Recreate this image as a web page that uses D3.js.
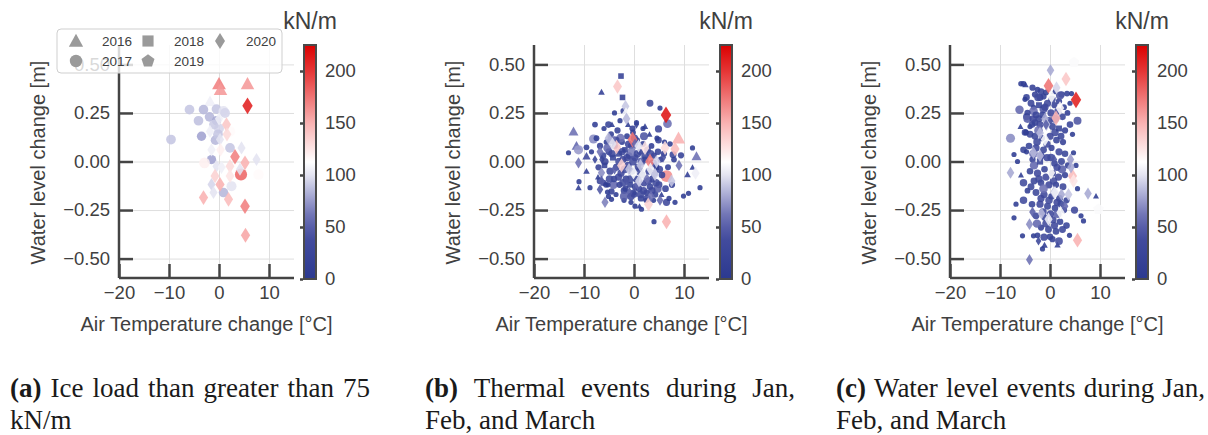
<!DOCTYPE html>
<html lang="en">
<head>
  <meta charset="UTF-8">
  <title>Ice load vs temperature and water level change</title>
  <script src="https://cdnjs.cloudflare.com/ajax/libs/d3/7.8.5/d3.min.js"></script>
  <style>
    body { margin: 0; background: #fff; }
    svg { font-family: "Liberation Sans", Arial, sans-serif; }
    .tick text { fill: #404040; font-size: 18.5px; }
    .axis path, .axis line { stroke: #444; stroke-width: 2.5px; }
    .grid line { stroke: #dedede; stroke-width: 1px; }
    .grid path { display: none; }
    .lbl { fill: #404040; font-size: 20px; text-anchor: middle; }
    .cap { font-family: "Liberation Serif", "Times New Roman", serif; font-size: 27px; fill: #1a1a1a; }
  </style>
</head>
<body>
<div id="chart"></div>
<script>
  const years = ["2016", "2017", "2018", "2019", "2020"];
  const xTicks = [-20, -10, 0, 10];
  const yTicks = [-0.5, -0.25, 0, 0.25, 0.5];
  const cbTicks = [0, 50, 100, 150, 200];

  // [air temp change, water level change, ice load, year index]
  const iceLoadHigh = [
    [0.0, 0.40, 170, 0], [0.3, 0.37, 160, 0], [5.7, 0.40, 160, 0], [-1.8, 0.31, 105, 0],
    [-5.9, 0.267, 90, 1], [-3.1, 0.267, 85, 1], [-0.5, 0.27, 90, 1], [0.9, 0.26, 100, 1],
    [-4.1, 0.21, 88, 1], [-1.9, 0.23, 85, 1], [-0.5, 0.21, 80, 1], [-3.5, 0.13, 78, 1],
    [-9.6, 0.113, 90, 1], [-0.7, 0.11, 85, 1], [0.0, 0.17, 95, 1], [-0.2, 0.14, 90, 1],
    [2.2, 0.155, 115, 1], [2.2, 0.07, 90, 1], [-1.5, 0.01, 78, 1], [-2.9, -0.007, 120, 1],
    [4.4, -0.067, 180, 1], [7.9, -0.067, 115, 1], [2.5, -0.127, 100, 1], [0.9, -0.16, 85, 1],
    [1.2, 0.25, 95, 1], [-1.0, 0.19, 92, 1],
    [5.7, 0.287, 210, 4], [1.5, 0.19, 140, 4], [-1.8, 0.155, 105, 4], [0.2, 0.113, 100, 4],
    [-1.5, 0.06, 105, 4], [0.3, 0.06, 120, 4], [4.5, 0.07, 100, 4], [3.2, 0.024, 170, 4],
    [5.2, -0.007, 150, 4], [7.5, 0.01, 100, 4], [-0.5, -0.024, 100, 4], [0.5, -0.03, 105, 4],
    [4.2, -0.04, 100, 4], [2.2, -0.024, 130, 4], [2.2, -0.075, 125, 4], [-0.8, -0.075, 135, 4],
    [0.2, -0.118, 150, 4], [-1.5, -0.118, 95, 4], [-1.1, -0.16, 100, 4], [-3.1, -0.186, 150, 4],
    [1.9, -0.195, 145, 4], [5.2, -0.23, 170, 4], [5.3, -0.38, 155, 4], [1.6, 0.14, 130, 4],
    [0.0, 0.22, 105, 4]
  ];

  const thermalEvents = [
    [-6.5, 0.357, 10, 0], [-12.1, 0.155, 60, 0], [-11.5, 0.08, 55, 0], [-9.5, 0.027, 30, 0],
    [-9.5, -0.05, 10, 0], [-11.1, -0.135, 8, 0], [2.2, 0.18, 8, 0], [8.9, 0.12, 150, 0],
    [12.5, 0.027, 60, 0], [10.7, -0.067, 10, 0], [11.7, -0.03, 5, 0], [-7.2, -0.08, 5, 0],
    [-4.4, 0.19, 5, 0], [-1.2, 0.19, 5, 0], [1.1, -0.23, 5, 0], [3.1, 0.14, 5, 0], [5.5, -0.17, 5, 0],
    [-3.9, 0.25, 5, 1], [-2.1, 0.26, 15, 1], [-7.8, 0.19, 10, 1], [-5.1, 0.19, 20, 1],
    [-0.3, 0.17, 15, 1], [-8.1, 0.116, 70, 1], [-11.1, 0.06, 75, 1], [-13.1, 0.045, 5, 1],
    [-9.5, 0.073, 10, 1], [-7.1, -0.03, 15, 1], [-11.0, -0.104, 5, 1], [-8.8, -0.135, 5, 1],
    [-6.8, -0.1, 20, 1], [-6.1, -0.11, 15, 1], [-5.6, -0.12, 10, 1], [-5.1, -0.18, 5, 1],
    [-4.5, -0.195, 5, 1], [-5.3, -0.157, 5, 1], [-4.5, -0.154, 15, 1], [-4.1, -0.12, 55, 1],
    [-1.7, -0.14, 15, 1], [-0.1, -0.16, 15, 1], [0.2, -0.23, 5, 1],
    [3.2, 0.30, 25, 1], [5.2, 0.275, 5, 1], [6.7, 0.195, 60, 1], [4.9, 0.168, 30, 1],
    [11.7, 0.07, 5, 1], [4.9, 0.11, 20, 1], [9.4, 0.032, 15, 1], [7.8, 0.035, 25, 1],
    [6.5, -0.075, 165, 1], [13.2, -0.135, 5, 1], [10.9, -0.164, 5, 1], [9.9, -0.178, 5, 1],
    [8.2, -0.21, 5, 1], [6.5, -0.21, 30, 1], [1.5, -0.246, 5, 1], [4.0, -0.31, 5, 1],
    [-7.5, 0.12, 10, 1], [-6.8, 0.08, 15, 1], [-6.2, 0.03, 20, 1], [-5.5, 0.10, 10, 1],
    [-5.0, 0.05, 25, 1], [-4.8, -0.05, 30, 1], [-4.6, 0.14, 12, 1], [-4.0, -0.09, 18, 1],
    [-3.8, 0.08, 10, 1], [-3.5, -0.03, 25, 1], [-3.3, 0.16, 15, 1], [-2.9, -0.12, 15, 1],
    [-2.6, -0.06, 30, 1], [-2.4, 0.10, 12, 1], [-2.2, 0.01, 28, 1], [-2.0, -0.15, 20, 1],
    [-1.6, -0.09, 25, 1], [-1.4, 0.13, 10, 1], [-1.2, -0.02, 30, 1], [-1.0, 0.03, 20, 1],
    [-0.6, 0.08, 15, 1], [-0.4, -0.05, 25, 1], [-0.2, 0.15, 10, 1], [0.0, -0.17, 20, 1],
    [0.2, 0.02, 30, 1], [0.4, -0.09, 22, 1], [0.6, 0.11, 12, 1], [1.0, -0.14, 20, 1],
    [1.2, 0.05, 15, 1], [1.4, -0.19, 18, 1], [1.6, -0.07, 25, 1], [1.8, 0.09, 12, 1],
    [2.0, -0.11, 30, 1], [2.5, -0.16, 15, 1], [2.7, 0.06, 22, 1], [3.0, -0.05, 28, 1],
    [3.2, -0.13, 20, 1], [3.5, 0.08, 10, 1], [3.7, -0.09, 25, 1], [4.0, 0.03, 15, 1],
    [4.2, -0.17, 20, 1], [4.8, 0.05, 18, 1], [5.0, -0.12, 25, 1], [5.3, 0.01, 10, 1],
    [5.6, -0.07, 20, 1], [6.0, 0.04, 15, 1], [6.3, -0.14, 22, 1], [6.8, -0.03, 12, 1],
    [7.2, 0.09, 8, 1], [7.6, -0.12, 15, 1], [8.0, 0.01, 10, 1], [-8.5, 0.05, 5, 1],
    [-6.0, 0.17, 5, 1], [-5.2, -0.12, 5, 1], [-3.6, -0.17, 5, 1], [-2.8, 0.21, 5, 1],
    [-2.0, -0.2, 5, 1], [-0.6, -0.21, 5, 1], [0.5, 0.2, 5, 1], [1.8, 0.17, 5, 1],
    [2.4, -0.2, 5, 1], [3.9, -0.2, 5, 1], [4.6, 0.12, 5, 1], [6.1, 0.1, 5, 1], [7.0, -0.19, 5, 1],
    [-5.3, 0.07, 55, 1], [-2.7, 0.12, 60, 1], [-0.5, 0.05, 65, 1], [1.5, 0.0, 50, 1],
    [3.8, -0.01, 45, 1], [4.7, -0.14, 50, 1], [2.0, 0.13, 45, 1], [-2.0, -0.18, 50, 1],
    [-5.8, 0.0, 30, 1], [-4.4, 0.04, 35, 1], [-3.1, -0.08, 30, 1], [-2.4, 0.05, 35, 1],
    [-1.9, -0.04, 40, 1], [-1.1, 0.09, 30, 1], [-0.8, -0.09, 35, 1], [-0.2, 0.0, 40, 1],
    [0.3, -0.13, 30, 1], [0.7, 0.04, 35, 1], [1.1, -0.05, 40, 1], [1.9, -0.15, 30, 1],
    [2.2, 0.03, 35, 1], [2.9, -0.1, 30, 1], [3.3, 0.04, 35, 1], [4.1, -0.06, 30, 1],
    [4.4, -0.11, 35, 1], [5.1, -0.04, 30, 1], [-4.9, -0.09, 35, 1], [-3.6, 0.11, 30, 1],
    [-2.2, -0.11, 35, 1], [-1.4, 0.02, 30, 1], [0.1, 0.12, 30, 1], [1.3, -0.17, 35, 1],
    [2.6, -0.19, 30, 1], [-0.6, -0.18, 30, 1], [-3.0, 0.0, 35, 1], [3.6, -0.15, 30, 1],
    [-2.6, 0.44, 15, 2], [-2.3, 0.33, 15, 2], [-5.9, -0.02, 15, 2], [-4.2, 0.02, 20, 2],
    [-3.0, 0.04, 20, 2], [-1.8, 0.06, 15, 2], [-0.8, -0.12, 18, 2], [0.8, -0.03, 28, 2],
    [2.3, 0.01, 20, 2], [4.5, -0.03, 12, 2], [-4.5, 0.11, 60, 2],
    [-3.3, 0.386, 140, 4], [-1.7, 0.284, 90, 4], [-1.6, 0.245, 110, 4], [-1.5, 0.22, 85, 4],
    [0.5, 0.19, 15, 4], [-0.3, 0.113, 175, 4], [-3.5, 0.075, 140, 4], [-5.1, 0.12, 85, 4],
    [-11.1, -0.007, 60, 4], [-6.8, 0.05, 60, 4], [-7.8, 0.01, 20, 4], [-6.4, 0.01, 25, 4],
    [-2.5, -0.02, 135, 4], [-6.5, -0.058, 70, 4], [-6.8, -0.144, 45, 4], [-5.8, -0.21, 65, 4],
    [-0.1, -0.058, 110, 4], [6.4, 0.24, 215, 4], [6.2, 0.07, 130, 4], [8.2, 0.065, 145, 4],
    [2.2, 0.07, 125, 4], [3.2, 0.0, 170, 4], [9.0, -0.02, 60, 4], [12.3, -0.06, 105, 4],
    [7.5, -0.1, 90, 4], [5.2, -0.2, 55, 4], [2.9, -0.22, 135, 4], [6.5, -0.31, 150, 4],
    [1.7, -0.07, 110, 4], [3.3, -0.04, 105, 4], [1.3, -0.02, 90, 4], [4.2, -0.067, 95, 4],
    [-3.9, -0.04, 50, 4], [-1.5, -0.1, 45, 4], [0.7, -0.12, 55, 4], [2.6, -0.09, 60, 4],
    [5.8, 0.02, 40, 4], [-6.5, -0.1, 50, 4], [0.2, 0.09, 55, 4], [3.4, -0.18, 60, 4],
    [-0.9, -0.16, 45, 4], [-4.3, 0.09, 100, 4], [0.9, 0.08, 100, 4], [1.0, -0.1, 95, 4],
    [-1.0, -0.04, 90, 4], [4.5, 0.0, 95, 4]
  ];

  const waterEvents = [
    [-4.9, 0.395, 8, 0], [-1.1, -0.43, 10, 0], [9.2, -0.178, 5, 0], [0.8, 0.36, 8, 0],
    [1.5, -0.43, 8, 0], [-5.8, -0.07, 5, 0], [-5.9, 0.18, 5, 0],
    [-5.3, 0.40, 10, 1], [-5.8, 0.40, 8, 1], [-4.7, 0.33, 20, 1], [-3.0, 0.345, 15, 1],
    [-2.0, 0.33, 25, 1], [-1.3, 0.335, 15, 1], [-3.3, 0.28, 5, 1], [2.3, 0.345, 20, 1],
    [3.4, 0.35, 10, 1], [4.3, 0.35, 5, 1], [-6.1, 0.267, 55, 1], [-3.3, 0.26, 60, 1],
    [-1.3, 0.27, 45, 1], [5.5, 0.21, 45, 1], [4.0, 0.19, 20, 1], [-4.7, 0.23, 25, 1],
    [-3.0, 0.20, 20, 1], [-4.0, 0.18, 5, 1], [-5.0, 0.15, 20, 1], [-4.0, 0.14, 25, 1],
    [-7.9, 0.12, 70, 1], [-7.2, 0.036, 5, 1], [-5.3, 0.06, 20, 1], [-3.3, 0.04, 60, 1],
    [4.7, 0.045, 5, 1], [-5.3, -0.2, 35, 1], [-5.3, -0.11, 35, 1], [-7.2, -0.29, 5, 1],
    [4.9, -0.25, 30, 1], [6.7, -0.306, 5, 1], [3.3, -0.33, 20, 1], [-5.5, -0.383, 5, 1],
    [-3.3, -0.383, 5, 1], [0.0, -0.388, 20, 1], [1.8, -0.41, 40, 1],
    [-3.5, 0.38, 15, 1], [-2.5, 0.37, 10, 1], [-1.8, 0.36, 20, 1], [-0.8, 0.355, 12, 1],
    [1.8, 0.31, 15, 1], [-3.8, 0.30, 25, 1], [-0.5, 0.30, 30, 1], [0.9, 0.29, 15, 1],
    [2.8, 0.28, 10, 1], [-4.5, 0.25, 15, 1], [-2.8, 0.24, 25, 1], [-1.5, 0.24, 20, 1],
    [0.2, 0.25, 30, 1], [2.5, 0.23, 20, 1], [3.5, 0.25, 10, 1], [-3.6, 0.19, 20, 1],
    [-2.0, 0.19, 30, 1], [0.5, 0.18, 25, 1], [3.0, 0.16, 15, 1], [-4.8, 0.15, 10, 1],
    [-3.0, 0.13, 25, 1], [-1.6, 0.12, 15, 1], [0.0, 0.13, 30, 1], [1.3, 0.11, 20, 1],
    [2.6, 0.10, 15, 1], [-4.2, 0.08, 20, 1], [-2.8, 0.07, 30, 1], [-1.3, 0.06, 25, 1],
    [0.3, 0.07, 15, 1], [1.8, 0.05, 30, 1], [3.0, 0.04, 20, 1], [-3.5, 0.01, 15, 1],
    [-0.6, 0.02, 30, 1], [0.9, -0.01, 20, 1], [2.3, 0.0, 25, 1], [3.6, -0.02, 15, 1],
    [-4.0, -0.05, 20, 1], [-2.5, -0.06, 30, 1], [-1.1, -0.04, 20, 1], [0.5, -0.06, 25, 1],
    [1.7, -0.08, 30, 1], [3.0, -0.07, 15, 1], [-3.2, -0.1, 25, 1], [-1.8, -0.11, 20, 1],
    [-0.2, -0.12, 30, 1], [1.2, -0.12, 15, 1], [2.6, -0.13, 25, 1], [-4.5, -0.15, 10, 1],
    [-2.8, -0.16, 25, 1], [-1.2, -0.17, 30, 1], [0.3, -0.18, 20, 1], [1.9, -0.19, 25, 1],
    [3.3, -0.2, 15, 1], [-3.6, -0.22, 20, 1], [-2.0, -0.22, 30, 1], [-0.5, -0.23, 25, 1],
    [1.0, -0.24, 20, 1], [2.8, -0.25, 15, 1], [-2.8, -0.28, 25, 1], [-1.0, -0.29, 20, 1],
    [0.6, -0.3, 30, 1], [2.0, -0.31, 20, 1], [-1.8, -0.34, 15, 1], [-0.3, -0.35, 25, 1],
    [1.2, -0.36, 20, 1], [-2.5, -0.38, 10, 1], [0.5, -0.4, 15, 1], [-1.5, -0.45, 5, 1],
    [-5.0, 0.32, 5, 1], [-6.5, 0.0, 5, 1], [4.5, 0.14, 5, 1], [5.2, -0.02, 5, 1],
    [5.5, -0.14, 5, 1], [6.2, -0.28, 5, 1], [-6.8, -0.22, 5, 1], [3.9, -0.38, 5, 1],
    [-4.7, 0.05, 5, 1], [4.0, 0.30, 5, 1],
    [-4.5, 0.22, 50, 1], [-2.3, 0.16, 60, 1], [1.0, 0.22, 55, 1], [-3.2, -0.02, 55, 1],
    [2.4, -0.04, 50, 1], [-1.3, -0.14, 60, 1], [1.5, -0.27, 50, 1], [-2.6, -0.32, 55, 1],
    [2.0, 0.34, 45, 1],
    [-2.4, 0.33, 35, 1], [-1.0, 0.28, 30, 1], [0.4, 0.32, 35, 1], [-3.4, 0.22, 30, 1],
    [-0.2, 0.21, 35, 1], [1.6, 0.26, 30, 1], [-2.6, 0.10, 35, 1], [-0.6, 0.09, 30, 1],
    [1.0, 0.15, 35, 1], [-1.8, 0.03, 30, 1], [0.2, 0.02, 35, 1], [1.4, -0.03, 30, 1],
    [-2.2, -0.09, 35, 1], [-0.8, -0.08, 30, 1], [0.7, -0.1, 35, 1], [-1.8, -0.19, 30, 1],
    [-0.2, -0.2, 35, 1], [1.4, -0.21, 30, 1], [-1.4, -0.26, 35, 1], [0.1, -0.27, 30, 1],
    [-0.8, -0.32, 35, 1], [0.9, -0.33, 30, 1], [-1.2, -0.39, 30, 1], [2.5, -0.35, 25, 1],
    [-2.2, 0.22, 25, 1], [2.2, 0.13, 25, 1], [-3.8, -0.13, 25, 1], [2.2, -0.22, 25, 1],
    [-2.2, 0.29, 20, 2], [1.8, 0.17, 20, 2], [-2.0, 0.0, 25, 2],
    [4.8, 0.51, 110, 3], [9.7, -0.246, 110, 3],
    [0.1, 0.47, 80, 4], [3.2, 0.425, 140, 4], [-0.3, 0.39, 175, 4], [1.3, 0.38, 95, 4],
    [5.2, 0.318, 210, 4], [0.3, 0.335, 110, 4], [2.0, 0.275, 115, 4], [1.2, 0.224, 150, 4],
    [-1.0, 0.22, 80, 4], [-0.7, 0.19, 90, 4], [-2.0, 0.147, 85, 4], [-1.0, 0.113, 110, 4],
    [-2.0, 0.03, 85, 4], [4.1, 0.01, 75, 4], [-7.9, -0.058, 80, 4], [0.2, -0.058, 110, 4],
    [4.5, -0.075, 145, 4], [4.2, -0.03, 80, 4], [4.7, -0.1, 125, 4], [0.8, -0.16, 85, 4],
    [2.3, -0.17, 80, 4], [3.7, -0.17, 90, 4], [7.6, -0.165, 80, 4], [-4.1, -0.323, 70, 4],
    [-1.7, -0.268, 85, 4], [-0.3, -0.297, 105, 4], [2.1, -0.263, 110, 4], [-2.3, -0.41, 25, 4],
    [5.5, -0.405, 150, 4], [-4.1, -0.506, 60, 4], [0.8, 0.01, 45, 4], [-0.8, 0.19, 50, 4],
    [3.0, -0.23, 55, 4], [-3.5, -0.26, 50, 4], [-3.3, 0.045, 85, 4], [1.0, -0.16, 105, 4]
  ];

  const width = 1208, height = 435;
  const svg = d3.select("#chart").append("svg")
    .attr("width", width)
    .attr("height", height);

  const color = d3.scaleLinear()
    .domain([0, 40, 60, 80, 100, 112.5, 150, 200, 225])
    .range(["#2b3990", "#434c9e", "#6c70b3", "#a6a8d3", "#e4e4f1", "#ffffff", "#f9b2b2", "#e53535", "#db0000"]);
  const size = d3.scaleSqrt().domain([0, 225]).range([1.9, 6.6]);

  // marker outline per year: tri, circle, square, pentagon, thin diamond
  function marker(shape, r) {
    if (shape === 1) return d3.symbol(d3.symbolCircle, Math.PI * r * r)();
    let pts;
    if (shape === 0) {
      const s = r * 1.15;
      pts = [[0, -s], [s, s * 0.8], [-s, s * 0.8]];
    } else if (shape === 2) {
      const s = r * 0.9;
      pts = [[-s, -s], [s, -s], [s, s], [-s, s]];
    } else if (shape === 3) {
      const s = r * 1.1;
      pts = d3.range(5).map(i => {
        const a = -Math.PI / 2 + i * 2 * Math.PI / 5;
        return [s * Math.cos(a), s * Math.sin(a)];
      });
    } else {
      const h = r * 1.3, w = h * 0.62;
      pts = [[0, -h], [w, 0], [0, h], [-w, 0]];
    }
    return "M" + pts.map(p => p.join(",")).join("L") + "Z";
  }

  function panel(left, cbLeft, data) {
    const top = 45, bottom = 278, right = left + 175;
    const x = d3.scaleLinear().domain([-20, 15]).range([left, right]);
    const y = d3.scaleLinear().domain([-0.6, 0.6]).range([bottom, top]);

    svg.append("g").attr("class", "grid")
      .attr("transform", `translate(0,${bottom})`)
      .call(d3.axisBottom(x).tickValues(xTicks).tickSize(-(bottom - top)).tickFormat(""));
    svg.append("g").attr("class", "grid")
      .attr("transform", `translate(${left},0)`)
      .call(d3.axisLeft(y).tickValues(yTicks).tickSize(-(right - left)).tickFormat(""));

    const pts = data.slice().sort((a, b) => a[3] - b[3]);
    svg.append("g").selectAll("path")
      .data(pts)
      .join("path")
      .attr("d", d => marker(d[3], size(d[2])))
      .attr("transform", d => `translate(${x(d[0])},${y(d[1])})`)
      .attr("fill", d => color(d[2]))
      .attr("fill-opacity", 0.88);

    svg.append("g").attr("class", "axis")
      .attr("transform", `translate(0,${bottom})`)
      .call(d3.axisBottom(x).tickValues(xTicks).tickSize(-14).tickPadding(8).tickFormat(d3.format("d")))
      .call(g => g.select(".domain").attr("d", `M${left},0H${right}`));
    svg.append("g").attr("class", "axis")
      .attr("transform", `translate(${left},0)`)
      .call(d3.axisLeft(y).tickValues(yTicks).tickSize(-14).tickPadding(9).tickFormat(d3.format(".2f")))
      .call(g => g.select(".domain").attr("d", `M0,${top}V${bottom}`));

    svg.append("text").attr("class", "lbl")
      .attr("x", (left + right) / 2).attr("y", 331)
      .text("Air Temperature change [°C]");
    svg.append("text").attr("class", "lbl")
      .attr("transform", `translate(${left - 81},${(top + bottom) / 2 + 1}) rotate(-90)`)
      .attr("dy", "0.35em")
      .text("Water level change [m]");

    // colorbar
    const cbW = 12, cbTop = 45, cbBottom = 279;
    const cy = d3.scaleLinear().domain([0, 225]).range([cbBottom, cbTop]);
    const gid = "grad" + left;
    const grad = svg.append("defs").append("linearGradient")
      .attr("id", gid).attr("x1", 0).attr("y1", 1).attr("x2", 0).attr("y2", 0);
    d3.range(0, 226, 12.5).forEach(v => {
      grad.append("stop").attr("offset", v / 225).attr("stop-color", color(v));
    });
    svg.append("rect")
      .attr("x", cbLeft).attr("y", cbTop)
      .attr("width", cbW).attr("height", cbBottom - cbTop)
      .attr("fill", `url(#${gid})`)
      .attr("stroke", "#4a4a4a").attr("stroke-width", 2);
    svg.append("g").attr("class", "axis")
      .attr("transform", `translate(${cbLeft - 1},0)`)
      .call(d3.axisLeft(cy).tickValues(cbTicks).tickSize(3).tickFormat(""))
      .call(g => g.select(".domain").remove());
    svg.append("g").attr("class", "axis")
      .attr("transform", `translate(${cbLeft + cbW},0)`)
      .call(d3.axisRight(cy).tickValues(cbTicks).tickSize(0).tickPadding(9))
      .call(g => g.select(".domain").remove());
    svg.append("text")
      .attr("x", cbLeft + cbW / 2).attr("y", 29)
      .attr("text-anchor", "middle")
      .attr("fill", "#404040")
      .style("font-size", "23px")
      .text("kN/m");
  }

  panel(119, 304, iceLoadHigh);
  panel(534, 720, thermalEvents);
  panel(950, 1136, waterEvents);

  // legend (panel a), drawn over the axis like the original
  const leg = svg.append("g");
  leg.append("rect")
    .attr("x", 57).attr("y", 29).attr("width", 225).attr("height", 44)
    .attr("rx", 4)
    .attr("fill", "#fff").attr("fill-opacity", 0.8)
    .attr("stroke", "#cfcfcf").attr("stroke-width", 1);
  years.forEach((yr, i) => {
    const col = Math.floor(i / 2), row = i % 2;
    const mx = 76 + col * 72, my = 41 + row * 20;
    leg.append("path")
      .attr("d", marker(i, 6.2))
      .attr("transform", `translate(${mx},${my})`)
      .attr("fill", "#9a9a9a");
    leg.append("text")
      .attr("x", mx + 26).attr("y", my + 5)
      .attr("fill", "#404040")
      .style("font-size", "13.5px")
      .text(yr);
  });

  // captions, first line justified
  const captions = [
    { x0: 10, x1: 370, words: ["(a)", "Ice", "load", "than", "greater", "than", "75"], line2: "kN/m" },
    { x0: 425, x1: 795, words: ["(b)", "Thermal", "events", "during", "Jan,"], line2: "Feb, and March" },
    { x0: 836, x1: 1205, words: ["(c)", "Water", "level", "events", "during", "Jan,"], line2: "Feb, and March" }
  ];
  captions.forEach(c => {
    const nodes = c.words.map((w, i) => svg.append("text")
      .attr("class", "cap")
      .attr("y", 397)
      .style("font-weight", i === 0 ? "bold" : "normal")
      .text(w));
    const widths = nodes.map(n => n.node().getComputedTextLength());
    const gap = (c.x1 - c.x0 - d3.sum(widths)) / (nodes.length - 1);
    let cx = c.x0;
    nodes.forEach((n, i) => { n.attr("x", cx); cx += widths[i] + gap; });
    svg.append("text").attr("class", "cap")
      .attr("x", c.x0).attr("y", 429)
      .text(c.line2);
  });
</script>
</body>
</html>
